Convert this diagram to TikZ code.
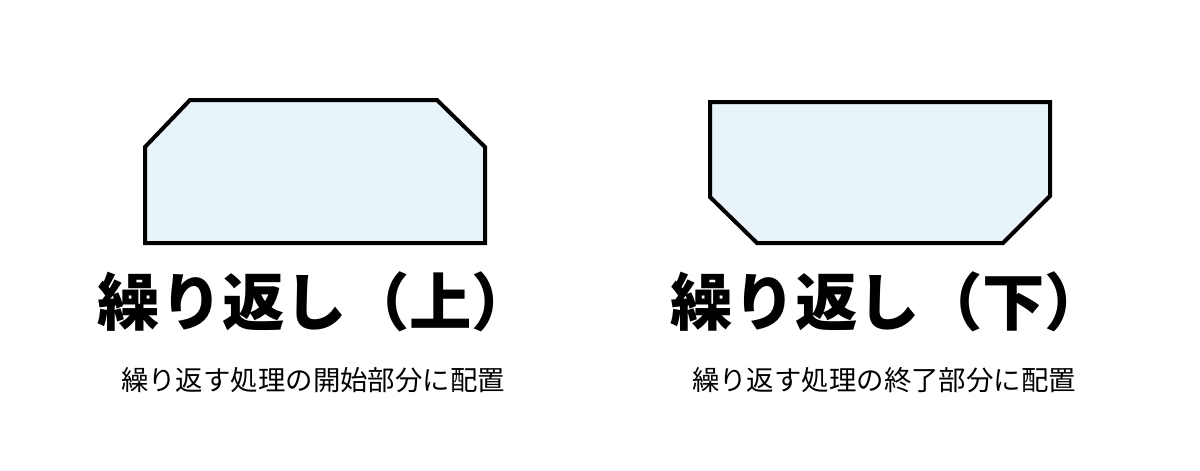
\documentclass[tikz,border=0pt]{standalone}
\usepackage{fontspec}
\newfontfamily\jp{Noto Sans CJK JP}
\definecolor{loopfill}{HTML}{E8F3FA}
\tikzset{
    loopshape/.style={draw=black, line width=4*0.02cm, fill=loopfill, line join=miter},
    looptitle/.style={font=\jp\bfseries\fontsize{35.5}{35.5}\selectfont, inner sep=0pt},
    loopnote/.style={font=\jp\fontsize{15.6}{15.6}\selectfont, inner sep=0pt},
}
\begin{document}
\begin{tikzpicture}[x=0.02cm, y=-0.02cm]
    \useasboundingbox (0,0) rectangle (1200,470);

    % loop start (top chamfered)
    \draw[loopshape] (190,100) -- (437,100) -- (485,147) -- (485,243)
                     -- (145,243) -- (145,147) -- cycle;
    \node[looptitle] (start-title) at (316,302) {繰り返し（上）};
    \node[loopnote]  (start-note)  at (313,380) {繰り返す処理の開始部分に配置};

    % loop end (bottom chamfered)
    \draw[loopshape] (710,102) -- (1050,102) -- (1050,196) -- (1003,243)
                     -- (757,243) -- (710,197) -- cycle;
    \node[looptitle] (end-title) at (889,302) {繰り返し（下）};
    \node[loopnote]  (end-note)  at (884,380) {繰り返す処理の終了部分に配置};
\end{tikzpicture}
\end{document}
